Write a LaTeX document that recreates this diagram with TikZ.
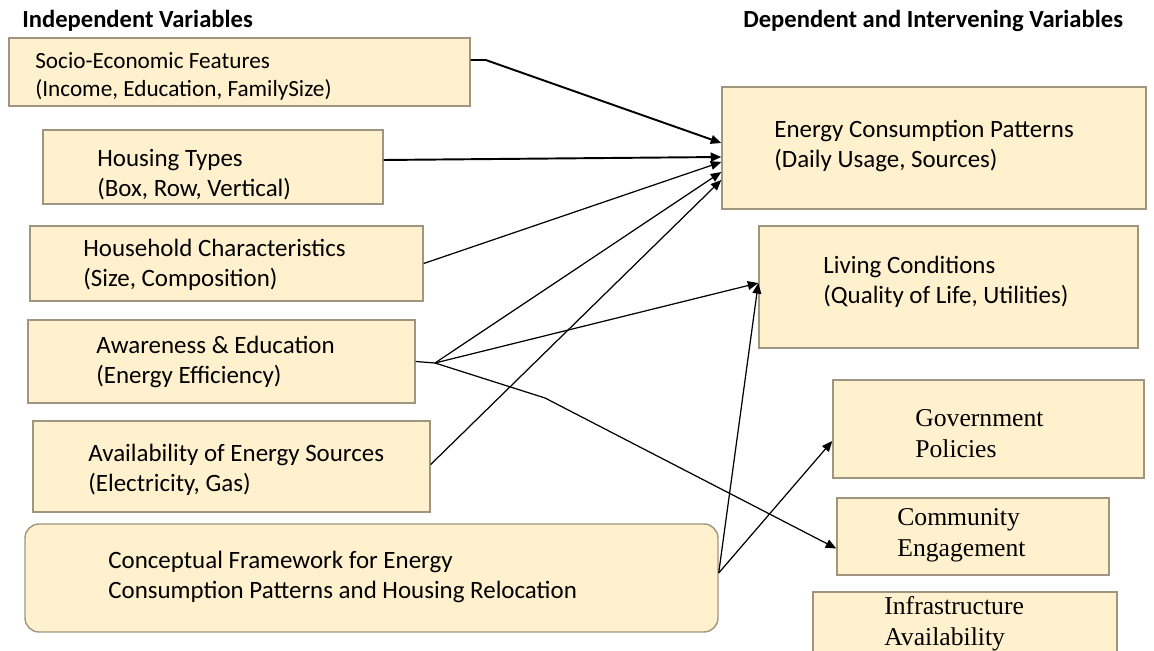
\documentclass[tikz,border=0pt]{standalone}
\usepackage{fontspec}
\setmainfont{Carlito}
\newfontfamily\serifbox{Liberation Serif}
\usetikzlibrary{arrows.meta,positioning,fit,calc}

\definecolor{boxfill}{RGB}{255,241,205}
\definecolor{boxline}{RGB}{160,150,128}

\begin{document}
\begin{tikzpicture}[
  x=0.02cm, y=-0.02cm,
  font=\fontsize{14.2}{17}\selectfont,
  box/.style={rectangle, draw=boxline, fill=boxfill, inner sep=0pt, line width=0.8pt},
  rbox/.style={box, rounded corners=8pt},
  txt/.style={anchor=west, align=left, inner sep=0pt},
  smalltxt/.style={txt, font=\fontsize{13.2}{16}\selectfont},
  stxt/.style={txt, font=\serifbox\fontsize{14.6}{17.5}\selectfont},
  head/.style={anchor=west, inner sep=0pt, font=\bfseries\fontsize{14}{16}\selectfont},
  arr/.style={-{Triangle[length=6pt,width=5pt]}, line width=0.7pt},
  thickarr/.style={arr, line width=1.1pt}
]
  \useasboundingbox (0,0) rectangle (1154,651);
  \clip (0,0) rectangle (1154,651);

  % column headings
  \node[head] (indep) at (22,21) {Independent Variables};
  \node[head] (dep)   at (743,21) {Dependent and Intervening Variables};

  % independent variables
  \node[box, fit={(9,38) (470,106)}]   (socio) {};
  \node[box, fit={(43,130) (383,204)}] (housing) {};
  \node[box, fit={(30,226) (423,301)}] (household) {};
  \node[box, fit={(28,320) (415,403)}] (aware) {};
  \node[box, fit={(33,421) (430,512)}] (avail) {};
  \node[rbox, fit={(25,524) (718,632)}] (concept) {};

  \node[smalltxt] (socio-t) at (35,76) {Socio-Economic Features\\(Income, Education, FamilySize)};
  \node[txt] (housing-t)   at (97,175) {Housing Types\\(Box, Row, Vertical)};
  \node[txt] (household-t) at (83,265) {Household Characteristics\\(Size, Composition)};
  \node[txt] (aware-t)     at (96,362) {Awareness \& Education\\(Energy Efficiency)};
  \node[txt] (avail-t)     at (88,470) {Availability of Energy Sources\\(Electricity, Gas)};
  \node[txt] (concept-t)   at (108,577) {Conceptual Framework for Energy\\Consumption Patterns and Housing Relocation};

  % dependent and intervening variables
  \node[box, fit={(722,87) (1146,209)}]   (energy) {};
  \node[box, fit={(759,226) (1138,348)}]  (living) {};
  \node[box, fit={(833,380) (1144,478)}]  (gov) {};
  \node[box, fit={(837,498) (1109,575)}]  (comm) {};
  \node[box, fit={(813,592) (1117,680)}]  (infra) {};

  \node[txt]  (energy-t) at (774,146) {Energy Consumption Patterns\\(Daily Usage, Sources)};
  \node[txt]  (living-t) at (823,282) {Living Conditions\\(Quality of Life, Utilities)};
  \node[stxt] (gov-t)    at (915,434) {Government\\Policies};
  \node[stxt] (comm-t)   at (897,535) {Community\\Engagement};
  \node[stxt] (infra-t)  at (884,624) {Infrastructure\\Availability};

  % links
  \coordinate (aw-fan)  at (435,363);
  \coordinate (aw-bend) at (545,398);

  \draw[thickarr] ($(socio.east)+(0,-12)$) -- ++(15,0) -- ($(energy.west)+(0,-5)$);
  \draw[thickarr] ($(housing.east)+(0,-7)$) -- ($(energy.west)+(0,9)$);
  \draw[arr] (household.east) -- ($(energy.west)+(0,14)$);
  \draw[line width=0.7pt] (aware.east) -- (aw-fan);
  \draw[arr] (aw-fan) -- ($(energy.west)+(0,24)$);
  \draw[arr] (aw-fan) -- ($(living.west)+(0,-4)$);
  \draw[arr] (aw-fan) -- (aw-bend) -- ($(comm.west)+(0,12)$);
  \draw[arr] ($(avail.east)+(0,-2)$) -- ($(energy.west)+(0,32)$);
  \draw[arr] ($(concept.east)+(0,-5)$) -- ($(living.west)+(0,-4)$);
  \draw[arr] ($(concept.east)+(0,-5)$) -- ($(gov.west)+(0,12)$);
\end{tikzpicture}
\end{document}
